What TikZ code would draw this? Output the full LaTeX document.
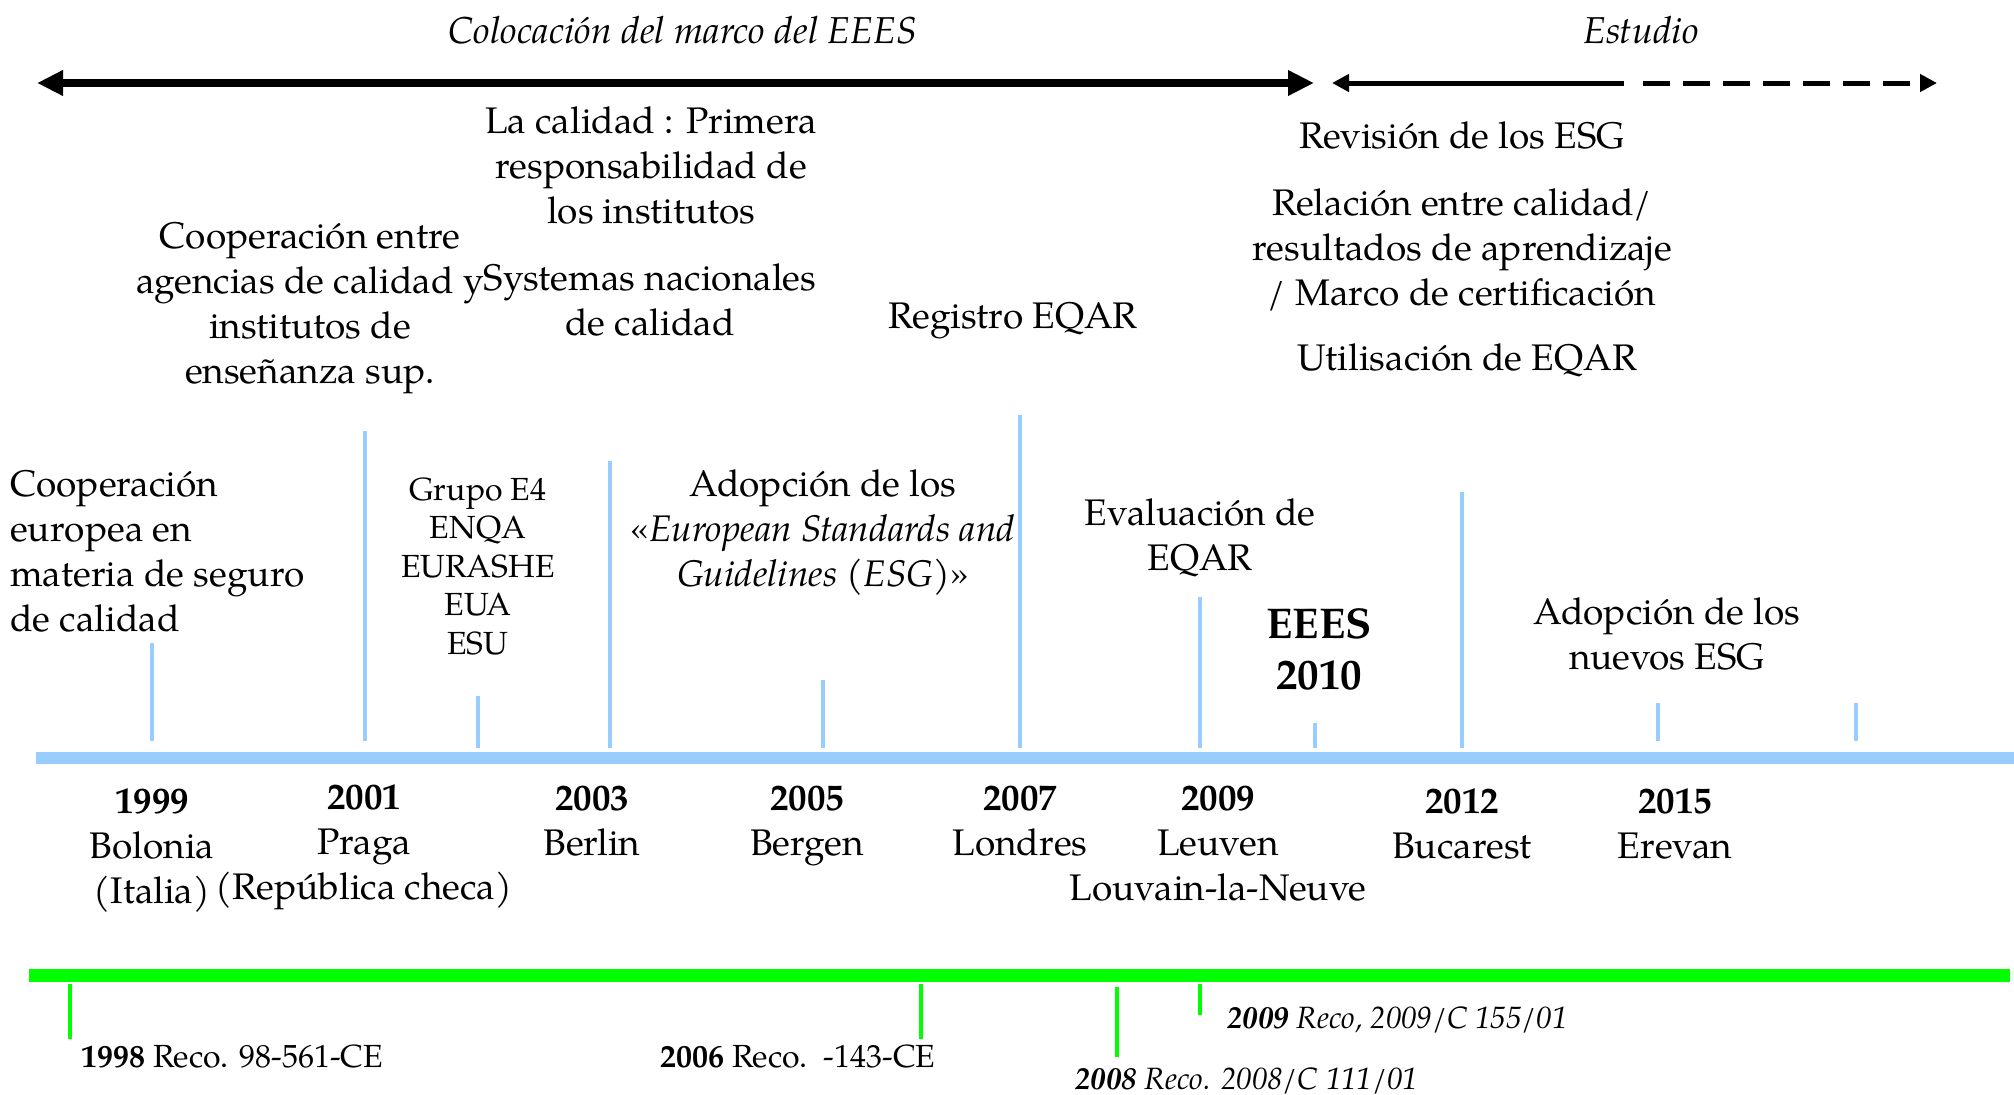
\documentclass[tikz,border=0pt]{standalone}
\usepackage{fontspec}
\setmainfont{TeX Gyre Pagella}
\usetikzlibrary{arrows.meta}
\definecolor{tlblue}{RGB}{153,204,255}
\definecolor{tlgreen}{RGB}{0,255,0}
\tikzset{
  txt/.style={font=\fontsize{37}{45}\selectfont, align=center, inner sep=0pt},
  txtl/.style={font=\fontsize{37}{45}\selectfont, align=left, inner sep=0pt, anchor=west},
  small/.style={font=\fontsize{32}{38.5}\selectfont, align=center, inner sep=0pt},
  big/.style={font=\fontsize{43}{51}\selectfont\bfseries, align=center, inner sep=0pt},
  head/.style={font=\fontsize{37.4}{43}\selectfont\itshape, inner sep=0pt},
  reco/.style={font=\fontsize{32}{38}\selectfont, inner sep=0pt, anchor=west},
  recoit/.style={font=\fontsize{30.8}{38}\selectfont\itshape, inner sep=0pt, anchor=west},
  bigarrow/.style={line width=8.5pt, {Triangle[length=26pt,width=24pt]}-{Triangle[length=26pt,width=24pt]}},
  smallarrow/.style={line width=5pt},
  bluebar/.style={draw=tlblue, line width=12pt},
  bluetick/.style={draw=tlblue, line width=3.5pt},
  greenbar/.style={draw=tlgreen, line width=13pt},
  greentick/.style={draw=tlgreen, line width=4pt}
}
\begin{document}
\begin{tikzpicture}[x=1pt,y=-1pt]
\useasboundingbox (0,0) rectangle (2014,1095);

% top headings and arrows
\node[head] (hcol) at (683,30) {Colocación del marco del EEES};
\node[head] (hest) at (1641,30) {Estudio};
\coordinate (a1l) at (37,83);
\coordinate (a1r) at (1314,83);
\draw[bigarrow] (a1l) -- (a1r);
\coordinate (a2l) at (1332,83);
\coordinate (a2m) at (1624,83);
\coordinate (a2d) at (1643,83);
\coordinate (a2r) at (1937,83);
\draw[smallarrow, {Triangle[length=17pt,width=17pt]}-] (a2l) -- (a2m);
\draw[smallarrow, dash pattern=on 27pt off 13pt, -{Triangle[length=17pt,width=17pt]}] (a2d) -- (a2r);

% upper texts
\node[txt] (calidad) at (651,165) {La calidad : Primera\\responsabilidad de\\los institutos};
\node[txt] (coopag) at (310,308.5) {Cooperación entre\\agencias de calidad y\\institutos de\\enseñanza sup.};
\node[txt] (sysnac) at (650,299.5) {Systemas nacionales\\de calidad};
\node[txt] (registro) at (1013,321) {Registro EQAR};
\node[txt] (revision) at (1462,135) {Revisión de los ESG};
\node[txt] (relacion) at (1462,250) {Relación entre calidad/\\resultados de aprendizaje\\/ Marco de certificación};
\node[txt] (utilis) at (1467,360) {Utilisación de EQAR};

% texts above the axis
\node[txtl] (coopeu) at (10,551.5) {Cooperación\\europea en\\materia de seguro\\de calidad};
\node[small] (grupo) at (478,566) {Grupo E4\\ENQA\\EURASHE\\EUA\\ESU};
\node[txt] (adopcion) at (823,533) {Adopción de los\\«\textit{European Standards and}\\\textit{Guidelines (ESG)}»};
\node[txt] (evaluacion) at (1200,538) {Evaluación de\\EQAR};
\node[big] (eees) at (1319,649) {EEES\\2010};
\node[txt] (nuevos) at (1667,633.5) {Adopción de los\\nuevos ESG};

% blue axis and ticks
\coordinate (axl) at (36,758);
\coordinate (axr) at (2014,758);
\draw[bluebar] (axl) -- (axr);
\foreach \n/\x/\ya/\yb in {1/152/643/741, 2/365/431/741, 3/478/696/748, 4/610/461/748,
  5/823/680/748, 6/1020/415/748, 7/1200/597/748, 8/1315/723/748, 9/1462/492/748,
  10/1658/703/741, 11/1856/703/741}{
  \coordinate (bt\n a) at (\x,\ya);
  \coordinate (bt\n b) at (\x,\yb);
  \draw[bluetick] (bt\n a) -- (bt\n b);
}

% years
\node[txt] (y1999) at (152,851) {\textbf{1999}\\Bolonia\\(Italia)};
\node[txt] (y2001) at (364,847) {\textbf{2001}\\Praga\\(República checa)};
\node[txt] (y2003) at (592,821) {\textbf{2003}\\Berlin};
\node[txt] (y2005) at (807,826.5) {\textbf{2005}\\Bergen};
\node[txt] (y2007) at (1020,821.5) {\textbf{2007}\\Londres};
\node[txt] (y2009) at (1218,844) {\textbf{2009}\\Leuven\\Louvain-la-Neuve};
\node[txt] (y2012) at (1462,824) {\textbf{2012}\\Bucarest};
\node[txt] (y2015) at (1675,824) {\textbf{2015}\\Erevan};

% green axis and ticks
\coordinate (gxl) at (29,975.5);
\coordinate (gxr) at (2010,975.5);
\draw[greenbar] (gxl) -- (gxr);
\foreach \n/\x/\ya/\yb in {1/70/984/1039, 2/921/984/1039, 3/1117/987/1057, 4/1200/984/1015}{
  \coordinate (gt\n a) at (\x,\ya);
  \coordinate (gt\n b) at (\x,\yb);
  \draw[greentick] (gt\n a) -- (gt\n b);
}
\node[reco] (r1998) at (81,1056) {\textbf{1998} Reco. 98-561-CE};
\node[reco] (r2006) at (660,1056) {\textbf{2006} Reco.\ \ -143-CE};
\node[recoit] (r2009) at (1227,1020) {\textbf{2009} Reco, 2009/C 155/01};
\node[recoit] (r2008) at (1075,1081) {\textbf{2008} Reco. 2008/C 111/01};
\end{tikzpicture}
\end{document}
